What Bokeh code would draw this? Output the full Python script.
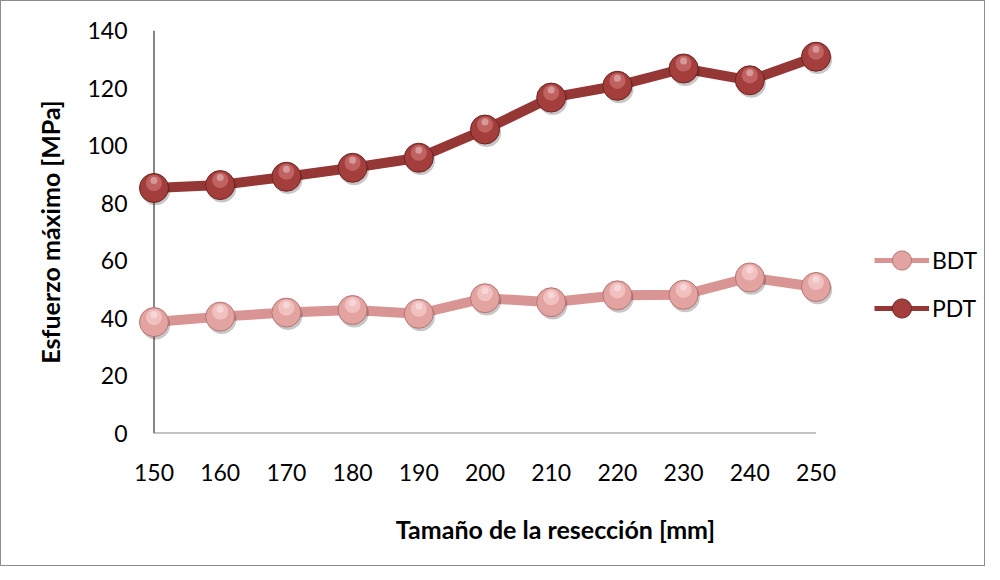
from bokeh.plotting import figure
from bokeh.models import Range1d, FixedTicker, Legend, LegendItem, ColumnDataSource
from bokeh.transform import dodge
from bokeh.embed import file_html
from bokeh.resources import INLINE

# ---- data ----
resection_mm = [150, 160, 170, 180, 190, 200, 210, 220, 230, 240, 250]
bdt = [38.7, 40.6, 42.0, 42.9, 41.6, 47.0, 45.6, 48.0, 48.2, 54.2, 50.9]
pdt = [85.3, 86.3, 89.2, 92.3, 95.8, 105.6, 116.7, 120.8, 126.8, 122.7, 130.9]
y_ticks = [0, 20, 40, 60, 80, 100, 120, 140]
series_names = ["BDT", "PDT"]

FONT = "Lato"
AXIS_GRAY = "#868686"

src = ColumnDataSource(dict(x=resection_mm, bdt=bdt, pdt=pdt))

# frame extends to the right so the legend can sit inside it
p = figure(width=985, height=566, output_backend="svg", toolbar_location=None,
           x_range=Range1d(resection_mm[0] - 4, 275.3),
           y_range=Range1d(y_ticks[0], y_ticks[-1]),
           min_border_left=126, min_border_right=3,
           min_border_top=29, min_border_bottom=134)
p.outline_line_color = None
p.grid.visible = False
p.background_fill_color = "white"
p.border_fill_color = "white"
p.styles = {"border": "1px solid #8c8c8c"}

# axes
xa = p.xaxis[0]
xa.ticker = FixedTicker(ticks=resection_mm)
xa.axis_line_color = None
xa.major_tick_line_color = None
xa.minor_tick_line_color = None
xa.major_tick_out = 0
xa.major_tick_in = 0
xa.major_label_standoff = 30
xa.major_label_text_font = FONT
xa.major_label_text_font_size = "23px"
xa.major_label_text_color = "black"
xa.axis_label = "Tamaño de la resección [mm]"
xa.axis_label_text_font = FONT
xa.axis_label_text_font_size = "25px"
xa.axis_label_text_font_style = "bold"
xa.axis_label_text_color = "black"
xa.axis_label_standoff = 30

ya = p.yaxis[0]
ya.ticker = FixedTicker(ticks=y_ticks)
ya.axis_line_color = None
ya.major_tick_line_color = None
ya.minor_tick_line_color = None
ya.major_tick_out = 0
ya.major_tick_in = 0
ya.major_label_standoff = 0
ya.major_label_text_font = FONT
ya.major_label_text_font_size = "23px"
ya.major_label_text_color = "black"
ya.axis_label = "Esfuerzo máximo [MPa]"
ya.axis_label_text_font = FONT
ya.axis_label_text_font_size = "25px"
ya.axis_label_text_font_style = "bold"
ya.axis_label_text_color = "black"
ya.axis_label_standoff = 19

# axis lines at the first category and at zero
p.segment(x0=[resection_mm[0]], y0=[y_ticks[0]], x1=[resection_mm[-1]], y1=[y_ticks[0]],
          line_color=AXIS_GRAY, line_width=2)
p.segment(x0=[resection_mm[0]], y0=[y_ticks[0]], x1=[resection_mm[0]], y1=[y_ticks[-1]],
          line_color=AXIS_GRAY, line_width=2)

styles = {
    "bdt": dict(line="#D99594", fill="#E3A3A1", edge="#B57573", hi="#FAD6D5"),
    "pdt": dict(line="#953735", fill="#A43E3C", edge="#6E2524", hi="#D47C79"),
}

for key in ["bdt", "pdt"]:
    s = styles[key]
    p.line("x", key, source=src, line_color=s["line"], line_width=10, line_join="round")
    # shadow
    p.scatter(x=dodge("x", 0.25), y=dodge(key, -1.0), source=src, size=29,
              fill_color="black", fill_alpha=0.22, line_color=None)
    # sphere body
    p.scatter("x", key, source=src, size=29, fill_color=s["fill"],
              line_color=s["edge"], line_width=1)
    # highlight
    p.scatter("x", y=dodge(key, 1.7), source=src, size=16, fill_color=s["hi"],
              fill_alpha=0.6, line_color=None)
    p.scatter("x", y=dodge(key, 2.6), source=src, size=7, fill_color="white",
              fill_alpha=0.35, line_color=None)

# legend-only renderers (a single NaN point so nothing shows in the plot)
nan = float("nan")
items = []
for name, key in zip(series_names, ["bdt", "pdt"]):
    s = styles[key]
    lr = p.line([nan], [nan], line_color=s["line"], line_width=5)
    sr = p.scatter([nan], [nan], fill_color=s["fill"], line_color=s["edge"], line_width=1)
    items.append(LegendItem(label=name, renderers=[lr, sr]))

legend = Legend(items=items, location=(747, 101), orientation="vertical",
                glyph_width=55, glyph_height=48, spacing=0, padding=0, margin=0,
                label_standoff=3, label_text_font=FONT, label_text_font_size="23px",
                label_text_color="black", border_line_color=None,
                background_fill_alpha=0)
p.add_layout(legend)

open("out.html", "w").write(file_html(p, INLINE))
